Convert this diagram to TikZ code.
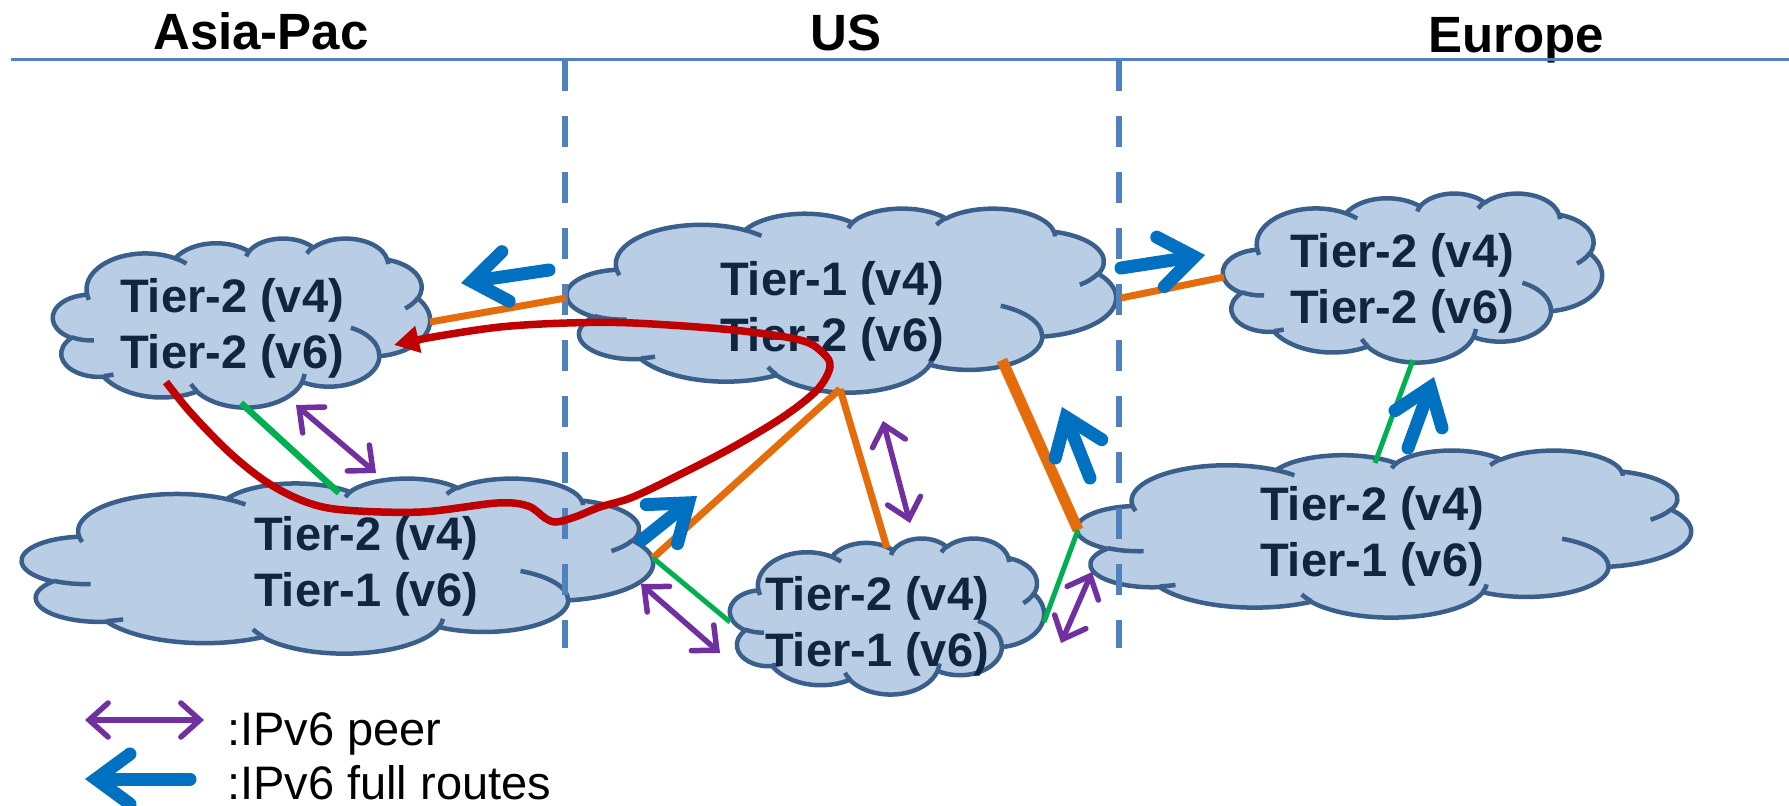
\documentclass[tikz,border=0pt]{standalone}
\usepackage{fontspec}
\setmainfont{Liberation Sans}
\usetikzlibrary{arrows.meta}

\definecolor{cloudfill}{HTML}{B9CDE5}
\definecolor{cloudedge}{HTML}{3A5F8B}
\definecolor{tiertext}{HTML}{10253F}
\definecolor{regionline}{HTML}{4F81BD}
\definecolor{linkorange}{HTML}{E46C0A}
\definecolor{linkgreen}{HTML}{00B050}
\definecolor{peerpurple}{HTML}{7030A0}
\definecolor{routeblue}{HTML}{0070C0}
\definecolor{pathred}{HTML}{C00000}

% elliptical arc whose start and sweep are given as visual angles
\newcommand\vis[4]{arc[start angle={atan2(#1*sin(#3),#2*cos(#3))+360*round(((#3)-atan2(#1*sin(#3),#2*cos(#3)))/360)}, end angle={atan2(#1*sin((#3)+(#4)),#2*cos((#3)+(#4)))+360*round(((#3)+(#4)-atan2(#1*sin((#3)+(#4)),#2*cos((#3)+(#4))))/360)}, x radius=#1, y radius=#2]}

% cloud outline in a 43.2 x 43.2 box: left, top, width, height
\newcommand\pptcloud[4]{%
  \pgfmathsetmacro\cldsx{#3/43.2}%
  \pgfmathsetmacro\cldsy{#4/43.2}%
  \begin{scope}[shift={(#1,#2)},x=\cldsx pt,y=-\cldsy pt]
    \path[cloudbody] (3.9,14.37)
      \vis{6.753}{9.19}{-190.4875}{123.7805}
      \vis{5.333}{7.267}{-144.1024}{89.9452}
      \vis{4.365}{5.945}{-145.8079}{99.723}
      \vis{4.857}{6.595}{-130.9861}{117.2417}
      \vis{5.333}{7.273}{-78.7089}{109.0269}
      \vis{6.775}{9.22}{-46.2673}{130.269}
      \vis{5.785}{7.867}{0.625}{114.0333}
      \vis{6.752}{9.215}{22.4516}{115.1726}
      \vis{7.72}{10.543}{66.2426}{75.711}
      \vis{4.36}{5.918}{-274.9421}{146.7356}
      \vis{4.345}{5.945}{-246.8285}{152.5189} -- cycle;
    \path[cloudseam]
      (4.693,26.177) \vis{4.345}{5.945}{86.742}{26.4295}
      (6.928,34.899) \vis{4.36}{5.918}{73.6105}{11.4475}
      (16.478,39.09) \vis{6.752}{9.215}{137.6242}{14.0811}
      (28.827,34.751) \vis{6.752}{9.215}{6.4533}{15.9984}
      (34.129,22.954) \vis{5.785}{7.867}{-70.2924}{70.9174}
      (41.798,15.354) \vis{5.333}{7.273}{30.318}{27.7515}
      (38.324,5.426) \vis{4.857}{6.595}{-13.7443}{14.8589}
      (29.078,3.952) \vis{4.857}{6.595}{-149.1815}{18.1954}
      (22.141,4.72) \vis{4.365}{5.945}{-163.4943}{17.6864}
      (14,5.192) \vis{6.753}{9.19}{-66.707}{12.3194}
      (4.127,15.789) \vis{6.753}{9.19}{157.6544}{11.8582};
  \end{scope}}

\tikzset{
  cloudbody/.style={fill=cloudfill, draw=cloudedge, line width=4.5pt, line join=round},
  cloudseam/.style={draw=cloudedge, line width=4.5pt},
  tier/.style={font=\fontsize{47}{56}\selectfont\bfseries, text=tiertext, align=center, inner sep=0pt},
  region/.style={font=\fontsize{51}{60}\selectfont\bfseries, anchor=base, inner sep=0pt},
  legendtext/.style={font=\fontsize{47}{56}\selectfont, anchor=base west, inner sep=0pt},
  divider/.style={draw=regionline, line width=5.5pt, dash pattern=on 31pt off 25pt},
  topline/.style={draw=regionline, line width=2.6pt},
  uplink/.style={draw=linkorange, line width=7pt},
  uplinkheavy/.style={draw=linkorange, line width=11pt},
  peerlink/.style={draw=linkgreen, line width=5pt},
  peer/.style={draw=peerpurple, line width=5.5pt, line cap=round,
    {Straight Barb[length=19pt,width=34pt,line cap=round]}-{Straight Barb[length=19pt,width=34pt,line cap=round]}},
  fullroute/.style={draw=routeblue, line width=13pt, line cap=round,
    -{Straight Barb[length=34pt,width=50pt,line cap=round,line join=miter]}},
  redpath/.style={draw=pathred, line width=7.5pt, -{Triangle[length=25pt,width=26pt]}}
}

\begin{document}
\begin{tikzpicture}[x=1pt,y=-1pt]
\useasboundingbox (0,0) rectangle (1789,806);

% region headers
\node[region] (hAsia) at (261,49) {Asia-Pac};
\node[region] (hUS) at (846,50) {US};
\node[region] (hEurope) at (1516,52) {Europe};
\draw[topline] (11,59.5) -- (1789,59.5);

% provider clouds
\pptcloud{53}{238}{377}{169}
\pptcloud{22}{478}{631}{175}
\pptcloud{567}{208}{549}{184}
\pptcloud{730}{538}{314}{156}
\pptcloud{1223}{193}{379}{169}
\pptcloud{1077}{450}{614}{167}

\node[tier] (apTop) at (232,328) {Tier-2 (v4)\\Tier-2 (v6)};
\node[tier] (apLow) at (366,566) {Tier-2 (v4)\\Tier-1 (v6)};
\node[tier] (usTop) at (832,311) {Tier-1 (v4)\\Tier-2 (v6)};
\node[tier] (usLow) at (877,626) {Tier-2 (v4)\\Tier-1 (v6)};
\node[tier] (euTop) at (1402,283) {Tier-2 (v4)\\Tier-2 (v6)};
\node[tier] (euLow) at (1372,536) {Tier-2 (v4)\\Tier-1 (v6)};

% region borders
\draw[divider] (565,60) -- (565,648);
\draw[divider] (1119,60) -- (1119,648);

% attachment points on the clouds
\coordinate (apTop-e) at (430,322);
\coordinate (apTop-s) at (241,403);
\coordinate (apTop-red) at (166,382);
\coordinate (apTop-redtip) at (394,345);
\coordinate (apLow-n) at (339,493);
\coordinate (apLow-e) at (653,558);
\coordinate (usTop-w) at (566,298);
\coordinate (usTop-s) at (840,389);
\coordinate (usTop-se) at (1002,360);
\coordinate (usTop-e) at (1121,298);
\coordinate (usLow-n) at (887,548);
\coordinate (usLow-w) at (730,622);
\coordinate (usLow-e) at (1044,622);
\coordinate (euTop-w) at (1224,277);
\coordinate (euTop-s) at (1413,360);
\coordinate (euLow-n) at (1375,463);
\coordinate (euLow-w) at (1078,530);

% transit and peering links
\draw[uplink] (apTop-e) -- (usTop-w);
\draw[uplink] (apLow-e) -- (usTop-s);
\draw[uplink] (usTop-s) -- (usLow-n);
\draw[uplink] (usTop-e) -- (euTop-w);
\draw[uplinkheavy] (usTop-se) -- (euLow-w);
\draw[peerlink, line width=6.5pt] (apTop-s) -- (apLow-n);
\draw[peerlink] (apLow-e) -- (usLow-w);
\draw[peerlink] (usLow-e) -- (euLow-w);
\draw[peerlink] (euTop-s) -- (euLow-n);

% IPv6 full-route announcements
\coordinate (r1a) at (549,270); \coordinate (r1b) at (461,283);
\coordinate (r2a) at (642,540); \coordinate (r2b) at (697,496);
\coordinate (r3a) at (1090,478); \coordinate (r3b) at (1062,407);
\coordinate (r4a) at (1121,268); \coordinate (r4b) at (1205,255);
\coordinate (r5a) at (1408,448); \coordinate (r5b) at (1434,377);
\draw[fullroute] (r1a) -- (r1b);
\draw[fullroute] (r2a) -- (r2b);
\draw[fullroute] (r3a) -- (r3b);
\draw[fullroute] (r4a) -- (r4b);
\draw[fullroute] (r5a) -- (r5b);

% IPv6 peerings
\coordinate (p1a) at (296,405); \coordinate (p1b) at (376,473);
\coordinate (p2a) at (641,584); \coordinate (p2b) at (720,653);
\coordinate (p3a) at (883,421); \coordinate (p3b) at (910,523);
\coordinate (p4a) at (1061,643); \coordinate (p4b) at (1092,572);
\draw[peer] (p1a) -- (p1b);
\draw[peer] (p2a) -- (p2b);
\draw[peer] (p3a) -- (p3b);
\draw[peer] (p4a) -- (p4b);

% detour of the IPv6 path through the US
\draw[redpath] plot[smooth, tension=0.55] coordinates {
  (apTop-red) (191,413) (230,453) (268,483) (306,502) (344,510) (421,512)
  (497,503) (528,506) (545,518) (556,522) (575,517) (600,507) (633,497)
  (683,473) (733,447) (783,417) (817,390) (830,367) (823,353) (800,340)
  (733,330) (633,323) (567,323) (500,327) (433,337) (apTop-redtip)};

% legend
\coordinate (lgPa) at (85,720); \coordinate (lgPb) at (204,720);
\coordinate (lgRa) at (190,779); \coordinate (lgRb) at (85,779);
\draw[peer] (lgPa) -- (lgPb);
\draw[fullroute] (lgRa) -- (lgRb);
\node[legendtext] (lgPeer) at (227,745) {:IPv6 peer};
\node[legendtext] (lgRoute) at (227,799) {:IPv6 full routes};
\end{tikzpicture}
\end{document}
